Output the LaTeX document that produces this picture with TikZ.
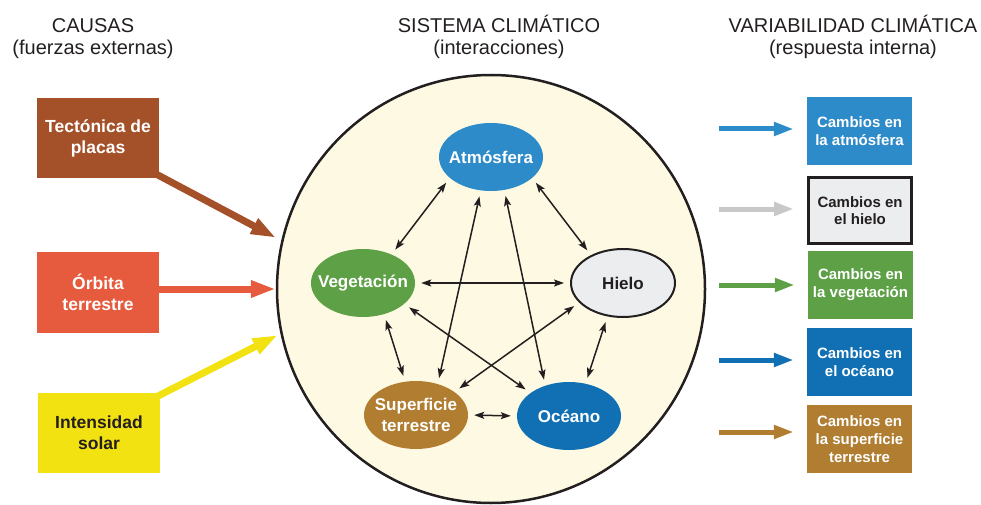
\documentclass[tikz,border=0pt]{standalone}
\usepackage{fontspec}
\setmainfont{Liberation Sans}
\usetikzlibrary{arrows.meta, shapes.geometric}

\definecolor{DarkText}{HTML}{231F20}
\definecolor{CircleFill}{HTML}{FEF9E2}
\definecolor{TectoBrown}{HTML}{A4512A}
\definecolor{OrbitRed}{HTML}{E65A3E}
\definecolor{SunYellow}{HTML}{F2E212}
\definecolor{AtmBlue}{HTML}{2E8BC9}
\definecolor{VegGreen}{HTML}{5DA046}
\definecolor{IceGray}{HTML}{ECEDEF}
\definecolor{IceArrow}{HTML}{C8C8C8}
\definecolor{LandBrown}{HTML}{B07D31}
\definecolor{OceanBlue}{HTML}{1170B3}

\begin{document}
\begin{tikzpicture}
	[x=1pt, y=-1pt,												%1 unit = 1 pixel of the drawing, y downwards
	 Heading/.style={anchor=base, text=DarkText, font=\fontsize{20}{22}\selectfont},		%Column titles
	 CauseBox/.style={rectangle, minimum width=122pt, minimum height=79pt, inner sep=0pt, align=center, text=white, font=\fontsize{17.5}{21}\selectfont\bfseries},
	 Part/.style={ellipse, minimum width=104pt, minimum height=68pt, inner xsep=-10pt, inner ysep=0pt, align=center, text=white, font=\fontsize{17}{20.5}\selectfont\bfseries},	%negative xsep: keep the ellipse size fixed
	 ChangeBox/.style={rectangle, minimum width=105pt, minimum height=68pt, inner sep=0pt, align=center, text=white, font=\fontsize{15}{17.7}\selectfont\bfseries},
	 CauseArrow/.style={line width=7pt, -{Triangle[length=25pt, width=16pt]}},		%Big arrows of the causes
	 Link/.style={line width=1.5pt, {Stealth[length=10pt, width=7pt, inset=2pt]}-{Stealth[length=10pt, width=7pt, inset=2pt]}, shorten <=6pt, shorten >=6pt, DarkText},
	 ChangeArrow/.style={line width=5pt, -{Triangle[length=20pt, width=13pt]}, shorten >=13pt}
	]
	
	\useasboundingbox (0,0) rectangle (981,505);
	
	%Titles
	\node[Heading] (causas) at (93,33) {CAUSAS};
	\node[Heading] (causasB) at (93,55) {(fuerzas externas)};
	\node[Heading] (sistemaT) at (499,33) {SISTEMA CLIMÁTICO};
	\node[Heading] (sistemaB) at (499,55) {(interacciones)};
	\node[Heading] (varT) at (853,33) {VARIABILIDAD CLIMÁTICA};
	\node[Heading] (varB) at (853,55) {(respuesta interna)};
	
	%Climate system
	\node[circle, minimum size=428pt, inner sep=0pt, draw=DarkText, line width=2.5pt, fill=CircleFill] (sistema) at (491,289) {};
	
	\node[Part, fill=AtmBlue] (atm) at (491,157) {Atmósfera};
	\node[Part, fill=VegGreen] (veg) at (363,283) {Vegetación};
	\node[Part, fill=IceGray, draw=DarkText, line width=2pt, text=DarkText] (hielo) at (623,283) {Hielo};
	\node[Part, fill=LandBrown] (sup) at (416,415) {Superficie\\terrestre};
	\node[Part, fill=OceanBlue] (oce) at (569,416) {Océano};
	
	\draw[Link] (atm.207) -- (veg.45);
	\draw[Link] (atm.333) -- (hielo.139);
	\draw[Link] (atm.253) -- (sup.55);
	\draw[Link] (atm.292) -- (oce.128);
	\draw[Link] (veg.east) -- (hielo.west);
	\draw[Link] (veg.333) -- (oce.149);
	\draw[Link] (veg.304) -- (sup.108);
	\draw[Link] (hielo.204) -- (sup.31);
	\draw[Link] (hielo.245) -- (oce.63);
	\draw[Link] (sup.east) -- (oce.west);
	
	%Causes
	\draw[CauseArrow, TectoBrown, shorten >=6pt] (98,138) ++(58,36) coordinate (tectA) -- (sistema.167);
	\draw[CauseArrow, SunYellow, shorten >=3pt] (99,433) ++(59,-37) coordinate (solarA) -- (sistema.192);
	\draw[CauseArrow, OrbitRed] (sistema.180 -| 150,0) coordinate (orbitA) -- (sistema.180);
	
	\node[CauseBox, fill=TectoBrown] (tecto) at (98,138) {Tectónica de\\placas};
	\node[CauseBox, fill=OrbitRed, minimum height=81pt] (orbita) at (98,292.5) {Órbita\\terrestre};
	\node[CauseBox, fill=SunYellow, text=DarkText, minimum height=80pt] (solar) at (99,433) {Intensidad\\solar};
	
	%Responses
	\node[ChangeBox, fill=AtmBlue] (catm) at (859.5,131) {Cambios en\\la atmósfera};
	\node[ChangeBox, fill=IceGray, draw=DarkText, line width=3pt, minimum width=103pt, minimum height=66pt, text=DarkText] (chielo) at (860,210.5) {Cambios en\\el hielo};
	\node[ChangeBox, fill=VegGreen] (cveg) at (860.5,285) {Cambios en\\la vegetación};
	\node[ChangeBox, fill=OceanBlue] (coce) at (859.5,362) {Cambios en\\el océano};
	\node[ChangeBox, fill=LandBrown] (csup) at (859.5,439) {Cambios en\\la superficie\\terrestre};
	
	\coordinate (aatm) at (719,129);
	\coordinate (ahielo) at (719,209);
	\coordinate (aveg) at (719,285);
	\coordinate (aoce) at (719,360);
	\coordinate (asup) at (719,432);
	\draw[ChangeArrow, AtmBlue] (aatm) -- (aatm -| catm.west);
	\draw[ChangeArrow, IceArrow] (ahielo) -- (ahielo -| chielo.west);
	\draw[ChangeArrow, VegGreen] (aveg) -- (aveg -| cveg.west);
	\draw[ChangeArrow, OceanBlue] (aoce) -- (aoce -| coce.west);
	\draw[ChangeArrow, LandBrown] (asup) -- (asup -| csup.west);
	
\end{tikzpicture}
\end{document}
